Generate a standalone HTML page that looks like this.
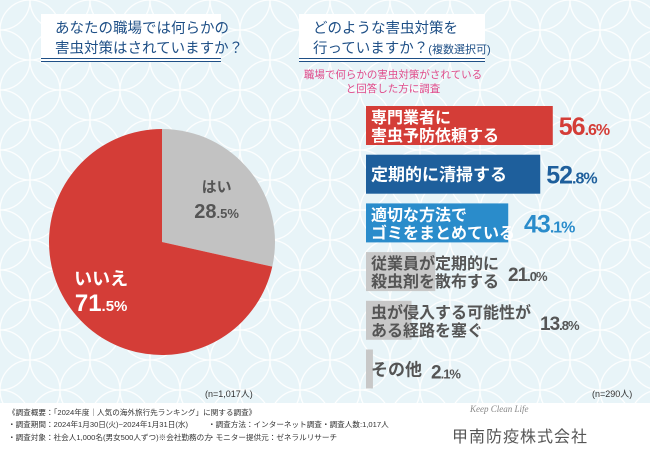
<!DOCTYPE html>
<html><head><meta charset="utf-8"><style>
body{margin:0;width:650px;height:450px;overflow:hidden;font-family:"Liberation Sans","Noto Sans CJK JP",sans-serif;}
#root{position:relative;width:650px;height:450px;background:#e8f4f8;}
svg{position:absolute;left:0;top:0;}
.tb{position:absolute;background:#fff;color:#1e4f86;font-size:14.5px;line-height:20px;padding:5px 0 0 14px;box-sizing:border-box;border-bottom:4px double #1e4f86;white-space:nowrap;}
.foot{position:absolute;left:0;top:403px;width:650px;height:47px;background:#fff;font-size:7.6px;color:#333;}
.foot div{position:absolute;white-space:nowrap;}
</style></head><body>
<div id="root">
<svg width="650" height="450">
<defs><pattern id="p" width="60" height="60" patternUnits="userSpaceOnUse">
<g fill="none" stroke="#fff" stroke-width="1.3" opacity="0.9">
<circle cx="0" cy="0" r="30"/><circle cx="60" cy="0" r="30"/><circle cx="0" cy="60" r="30"/><circle cx="60" cy="60" r="30"/><circle cx="30" cy="30" r="30"/></g></pattern></defs>
<rect width="650" height="450" fill="url(#p)"/>
</svg>
<div class="tb" style="left:41px;top:14px;width:180px;height:48px;">あなたの職場では何らかの<br>害虫対策はされていますか？</div>
<div class="tb" style="left:299px;top:14px;width:186px;height:48px;">どのような害虫対策を<br>行っていますか？<span style="font-size:11px">(複数選択可)</span></div>
<div style="position:absolute;left:290px;top:68px;width:206px;text-align:center;color:#e04a8a;font-size:10.5px;line-height:14px;white-space:nowrap;">職場で何らかの害虫対策がされている<br>と回答した方に調査</div>
<svg id="chart" width="650" height="450"></svg>
<div style="position:absolute;left:205px;top:387px;font-size:9px;color:#333;">(n=1,017人)</div>
<div style="position:absolute;left:592px;top:387px;font-size:9px;color:#333;">(n=290人)</div>
<div class="foot">
<div style="left:8px;top:4px">《調査概要：「2024年度｜人気の海外旅行先ランキング」に関する調査》</div>
<div style="left:8px;top:16px">・調査期間：2024年1月30日(火)~2024年1月31日(水)</div>
<div style="left:8px;top:29px">・調査対象：社会人1,000名(男女500人ずつ)※会社勤務の方</div>
<div style="left:208px;top:16px">・調査方法：インターネット調査</div>
<div style="left:208px;top:29px">・モニター提供元：ゼネラルリサーチ</div>
<div style="left:322px;top:16px">・調査人数:1,017人</div>
<div style="left:470px;top:1px;font-family:'Liberation Serif',serif;font-style:italic;color:#888;font-size:9px">Keep Clean Life</div>
<div style="left:452px;top:20px;font-size:16px;color:#555;letter-spacing:1px">甲南防疫株式会社</div>
</div>
</div>
<script>
const pieLabels=["はい","いいえ"];
const pieValues=[28.5,71.5];
const barLabels=[["専門業者に","害虫予防依頼する"],["定期的に清掃する"],["適切な方法で","ゴミをまとめている"],["従業員が定期的に","殺虫剤を散布する"],["虫が侵入する可能性が","ある経路を塞ぐ"],["その他"]];
const barValues=[56.6,52.8,43.1,21.0,13.8,2.1];
const NS="http://www.w3.org/2000/svg";
const svg=document.getElementById('chart');
function mk(t,a){const e=document.createElementNS(NS,t);for(const k in a)e.setAttribute(k,a[k]);svg.appendChild(e);return e;}
const cx=162,cy=242,r=113;const pieCols=["#c2c2c2","#d43d37"];
let ang=0;const tot=pieValues.reduce((a,b)=>a+b,0);
pieValues.forEach((v,i)=>{
 const a0=ang,a1=ang+v/tot*2*Math.PI;ang=a1;
 const x0=cx+r*Math.sin(a0),y0=cy-r*Math.cos(a0),x1=cx+r*Math.sin(a1),y1=cy-r*Math.cos(a1);
 const p=mk('path',{d:`M${cx},${cy}L${x0},${y0}A${r},${r} 0 ${a1-a0>Math.PI?1:0} 1 ${x1},${y1}Z`,fill:pieCols[i]});
 
 
 const am=(a0+a1)/2,lr=i==0?70:78;
 const lx=cx+lr*Math.sin(am),ly=cy-lr*Math.cos(am);
 const t1=mk('text',{x:lx,y:ly-6,'text-anchor':'middle','font-size':i==0?15:18,'font-weight':'bold',fill:i==0?'#555':'#fff'});
 t1.textContent=pieLabels[i];
 
 
 const t2=mk('text',{x:lx,y:ly+20,'text-anchor':'middle','font-size':i==0?20:24,'font-weight':'bold',fill:i==0?'#555':'#fff'});
 const s=v.toFixed(1).split('.');
 t2.innerHTML=s[0]+'<tspan font-size="'+(i==0?13:15)+'">.'+s[1]+'%</tspan>';
 
 
});
const x0=366,scale=3.3,top0=106,step=48.7,bh=39;
const barCols=["#d43d37","#1e5f9c","#2a8ccb","#c8c8c8","#c8c8c8","#c8c8c8"];
const txtCols=["#fff","#fff","#fff","#555","#555","#555"];
const valCols=["#d43d37","#1e5f9c","#2a8ccb","#555","#555","#555"];
barValues.forEach((v,i)=>{
 const y=top0+i*step,w=v*scale;
 const b=mk('rect',{x:x0,y:y,width:w,height:bh,fill:barCols[i]});
 
 
 const lines=barLabels[i];
 const fs=lines.length==1?17:16;
 lines.forEach((ln,j)=>{
  const ty=lines.length==1?y+26:y+17+j*18;
  const t=mk('text',{x:x0+5,y:ty,'font-size':fs,'font-weight':'bold',fill:txtCols[i]});
  t.textContent=ln;
  
  
 });
 const tw=Math.max(...lines.map(l=>l.length))*fs+8;
 const vx=Math.max(x0+w,x0+tw)+6;
 const s=v.toFixed(1).split('.');
 const t=mk('text',{x:vx,y:y+29,'font-size':i<3?25:19,'font-weight':'bold',fill:valCols[i],'letter-spacing':'-1'});
 t.innerHTML=s[0]+'<tspan font-size="'+(i<3?16:13)+'">.'+s[1]+'%</tspan>';
 
 
});
</script>
</body></html>
